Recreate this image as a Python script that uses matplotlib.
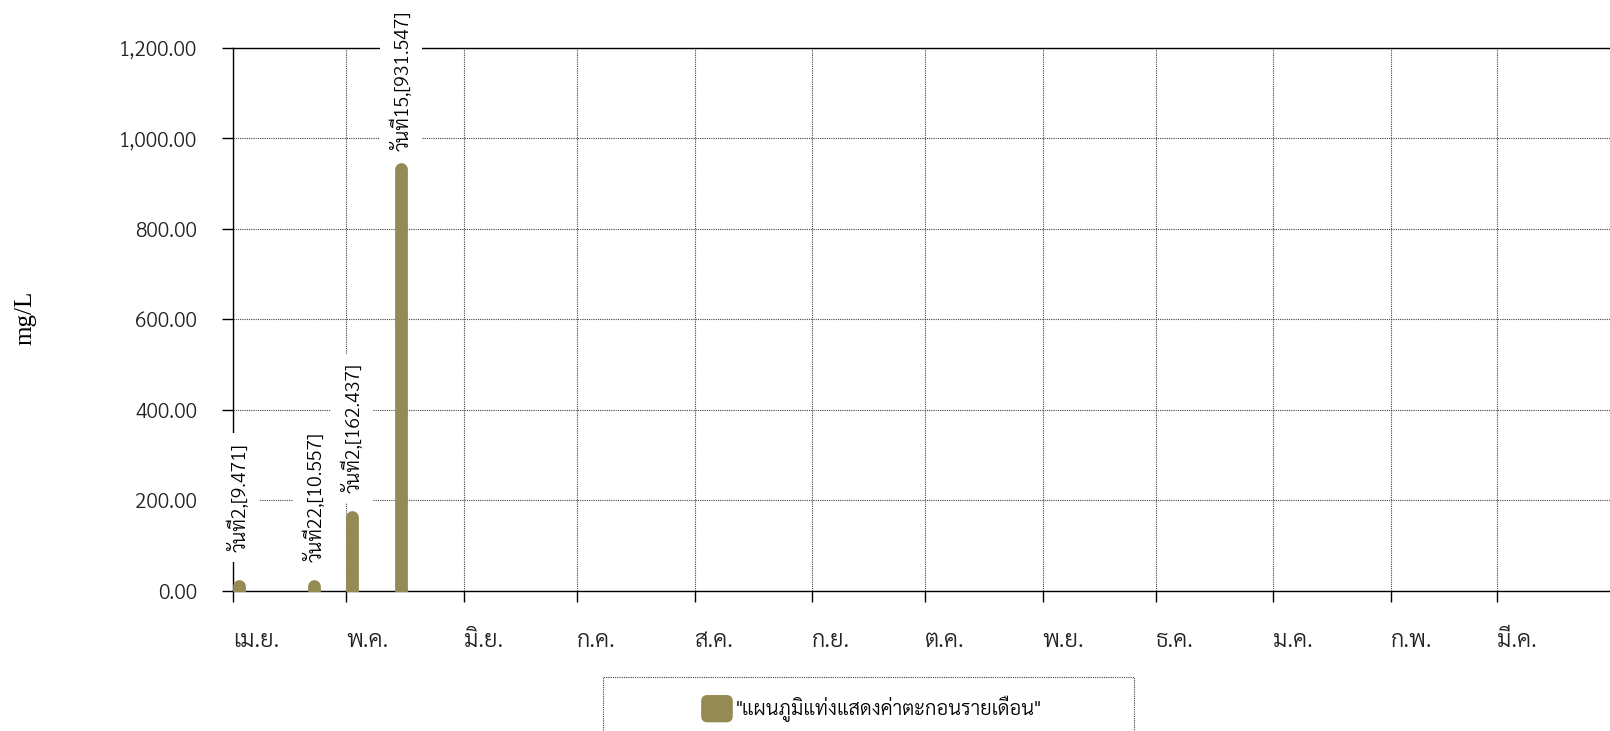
import pandas as pd
import matplotlib
matplotlib.use("Agg")
import matplotlib.pyplot as plt
from matplotlib.patches import FancyBboxPatch, Rectangle, Patch
from matplotlib.legend_handler import HandlerPatch
from matplotlib.ticker import FuncFormatter, MultipleLocator

plt.rcParams['font.family'] = ['Sarabun', 'Noto Sans Thai', 'DejaVu Sans']
plt.rcParams['font.weight'] = 300

# data
dates = ['2022-04-02', '2022-04-22', '2022-05-02', '2022-05-15']
values = [9.471, 10.557, 162.437, 931.547]
bar_labels = ['วันที่2,[9.471]', 'วันที่22,[10.557]', 'วันที่2,[162.437]', 'วันที่15,[931.547]']
month_labels = ['เม.ย.', 'พ.ค.', 'มิ.ย.', 'ก.ค.', 'ส.ค.', 'ก.ย.',
                'ต.ค.', 'พ.ย.', 'ธ.ค.', 'ม.ค.', 'ก.พ.', 'มี.ค.']
series_name = '"แผนภูมิแท่งแสดงค่าตะกอนรายเดือน"'
unit = 'mg/L'
x_start, x_end = '2022-04-01', '2023-03-31'

color = '#948a54'
W, H = 1610, 731

fig = plt.figure(figsize=(W / 100, H / 100), dpi=100)
ax = fig.add_axes([233 / W, 1 - 590.7 / H, 1 - 233 / W, (590.7 - 48) / H])

x = pd.to_datetime(dates) + pd.Timedelta(hours=12)
bars = ax.vlines(x, 0, values, colors=color, linewidth=9.2, capstyle='round', zorder=3)
# flat bottom: clip the round cap under the axis
clip = Rectangle((0, -3), 1, 5000, transform=ax.get_yaxis_transform())
bars.set_clip_path(clip)

# labels: centre of the rotated text sits a fixed distance above the bar top
for xi, v, t in zip(x, values, bar_labels):
    ax.annotate(t, (xi, v), xytext=(0, 64), textcoords='offset points',
                rotation=90, ha='center', va='center', fontsize=14,
                bbox=dict(boxstyle='square,pad=0.5', fc='white', ec='none'),
                annotation_clip=False, zorder=6)

ax.set_ylim(0, 1200)
ax.yaxis.set_major_locator(MultipleLocator(200))
ax.yaxis.set_major_formatter(FuncFormatter(lambda v, p: f'{v:,.2f}'))
ax.set_xlim(pd.Timestamp(x_start), pd.Timestamp(x_end))
ticks = pd.date_range(x_start, periods=len(month_labels), freq='MS')
ax.set_xticks(ticks)
ax.set_xticklabels(month_labels, ha='left')

ax.grid(True, linestyle=(0, (1, 1)), color='#444444', linewidth=0.8, zorder=0)
ax.set_axisbelow(True)
for s in ['left', 'bottom', 'top']:
    ax.spines[s].set_linewidth(1.0)
    ax.spines[s].set_color('black')
ax.spines['right'].set_visible(False)
ax.tick_params(axis='y', length=8, width=1, pad=18, labelsize=15, colors='#222222')
ax.tick_params(axis='x', length=8, width=1, pad=20, labelsize=17, colors='#222222')
ax.tick_params(axis='both', color='black')

fig.text(25 / W, 1 - 318 / H, unit, rotation=90, ha='center', va='center',
         fontsize=18, family='Liberation Serif', weight='normal')

# legend
def rounded(legend, orig_handle, xdescent, ydescent, width, height, fontsize):
    return FancyBboxPatch((-xdescent, -ydescent), width, height,
                          boxstyle='round,pad=0,rounding_size=4')

fig.legend(handles=[Patch(color=color)], labels=[series_name], loc='center',
           bbox_to_anchor=(872 / W, 1 - 709 / H), frameon=False,
           handler_map={Patch: HandlerPatch(patch_func=rounded)},
           handlelength=1.5, handleheight=1.6, handletextpad=0.2, fontsize=14.5)
fig.add_artist(Rectangle((603 / W, 1 - 745 / H), (1134 - 603) / W, (745 - 677.5) / H,
                         transform=fig.transFigure, fill=False,
                         linestyle=(0, (1, 1)), edgecolor='#444444', linewidth=0.8))

plt.savefig('out.png', dpi=100)
